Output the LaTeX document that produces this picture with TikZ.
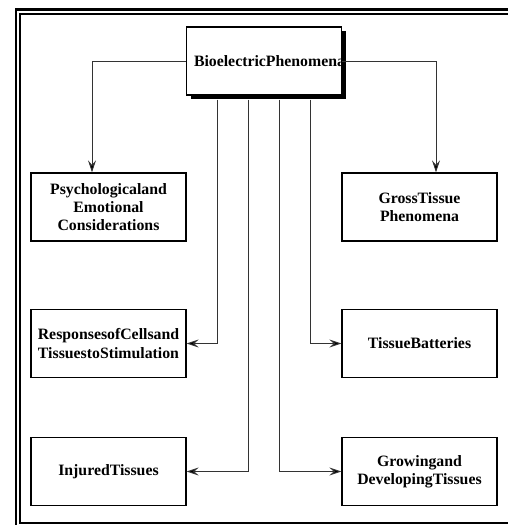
\documentclass[tikz,border=0pt]{standalone}
\usepackage{fontspec}
\setmainfont{Liberation Serif}
\usetikzlibrary{arrows.meta,shadows}

\begin{document}
\begin{tikzpicture}
    [x=1pt, y=-1pt,
     topic/.style={draw, line width=1.3pt, minimum width=155pt, minimum height=68pt, inner sep=0pt,
                   align=center, font=\fontsize{15.8}{18.3}\selectfont\bfseries},
     root/.style={topic, fill=white, text width=140pt, align=left,
                  drop shadow={shadow xshift=4pt, shadow yshift=-4pt, fill=black, opacity=1}},
     link/.style={draw=black!80, line width=0.9pt, -{Stealth[length=12pt, width=8pt, inset=4.5pt, fill=black]}}]
    \useasboundingbox (0,0) rectangle (507,525);
    % double frame
    \draw[line width=2.4pt] (16,9.3) rectangle (520,532);
    \draw[line width=2pt] (19.5,14.3) rectangle (515,522.5);
    \node[root] (bio) at (264,61) {BioelectricPhenomena};
    \node[topic] (psych) at (108.5,207) {Psychologicaland\\Emotional\\Considerations};
    \node[topic] (gross) at (419.5,207) {GrossTissue\\Phenomena};
    \node[topic] (resp) at (108.5,343.5) {ResponsesofCellsand\\TissuestoStimulation};
    \node[topic] (batt) at (419.5,343.5) {TissueBatteries};
    \node[topic] (injured) at (108.5,471.5) {InjuredTissues};
    \node[topic] (growing) at (419.5,471.5) {Growingand\\DevelopingTissues};
    \draw[link] (bio.west) -| ([xshift=-16.5pt]psych.north);
    \draw[link] (bio.east) -| ([xshift=16.5pt]gross.north);
    \draw[link] ([xshift=-47pt, yshift=-4pt]bio.south) |- (resp.east);
    \draw[link] ([xshift=-16pt, yshift=-4pt]bio.south) |- (injured.east);
    \draw[link] ([xshift=15pt, yshift=-4pt]bio.south) |- (growing.west);
    \draw[link] ([xshift=46.5pt, yshift=-4pt]bio.south) |- (batt.west);
\end{tikzpicture}
\end{document}
